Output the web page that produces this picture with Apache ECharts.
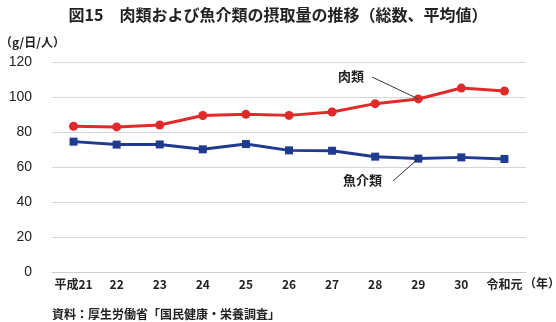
<!DOCTYPE html>
<html>
<head>
<meta charset="utf-8">
<script src="https://cdn.jsdelivr.net/npm/echarts@6/dist/echarts.min.js"></script>
<style>
  html, body { margin: 0; padding: 0; background: #fff; }
  #chart { width: 556px; height: 322px; }
</style>
</head>
<body>
<div id="chart"></div>
<script>
// 年次（平成21〜令和元）
const years = ['平成21', '22', '23', '24', '25', '26', '27', '28', '29', '30', '令和元'];
// 肉類・魚介類の摂取量（g/日/人）
const meat = [83.3, 82.9, 84.0, 89.4, 90.1, 89.5, 91.4, 96.2, 98.9, 105.1, 103.4];
const fish = [74.5, 72.8, 72.9, 70.1, 73.1, 69.5, 69.3, 65.9, 64.8, 65.5, 64.6];
const yTicks = [0, 20, 40, 60, 80, 100, 120];

const JP = '"Noto Sans CJK JP", sans-serif';
const chart = echarts.init(document.getElementById('chart'));

chart.setOption({
  animation: false,
  backgroundColor: '#fff',
  title: {
    text: '図15　肉類および魚介類の摂取量の推移（総数、平均値）',
    left: 'center',
    top: 2,
    textStyle: { fontFamily: JP, fontSize: 16, fontWeight: 'bold', color: '#222' }
  },
  grid: { left: 52, right: 30, top: 62, bottom: 50 },
  xAxis: {
    type: 'category',
    data: years,
    boundaryGap: true,
    axisLine: { lineStyle: { color: '#cfcfcf', width: 1 } },
    axisTick: { show: false },
    axisLabel: { interval: 0, fontFamily: JP, fontSize: 12, fontWeight: 'bold', color: '#222', margin: 6 }
  },
  yAxis: {
    type: 'value',
    min: yTicks[0],
    max: yTicks[yTicks.length - 1],
    interval: 20,
    axisLine: { show: false },
    axisTick: { show: false },
    splitLine: { lineStyle: { color: '#d6d6d6', width: 1 } },
    axisLabel: { fontFamily: '"Liberation Sans", Arial, sans-serif', fontSize: 14, color: '#222', margin: 20 }
  },
  graphic: [
    { type: 'text', left: 0, top: 36, style: { text: '（g/日/人）', font: 'bold 12px ' + JP, fill: '#222' } },
    { type: 'text', left: 524, top: 277, style: { text: '（年）', font: 'bold 12px ' + JP, fill: '#222' } },
    { type: 'text', left: 52, top: 308, style: { text: '資料：厚生労働省「国民健康・栄養調査」', font: 'bold 12px ' + JP, fill: '#222' } },
    { type: 'text', left: 338, top: 70, style: { text: '肉類', font: 'bold 13px ' + JP, fill: '#222' } },
    { type: 'text', left: 343, top: 174, style: { text: '魚介類', font: 'bold 13px ' + JP, fill: '#222' } }
  ],
  series: [
    {
      name: '肉類',
      type: 'line',
      data: meat,
      symbol: 'circle',
      symbolSize: 9,
      itemStyle: { color: '#e02a2a' },
      lineStyle: { color: '#e02a2a', width: 3 },
      markLine: {
        silent: true,
        symbol: ['none', 'none'],
        label: { show: false },
        lineStyle: { color: '#333', width: 1, type: 'solid' },
        data: [[{ x: 372, y: 77 }, { coord: [8, meat[8]] }]]
      }
    },
    {
      name: '魚介類',
      type: 'line',
      data: fish,
      symbol: 'rect',
      symbolSize: 8,
      itemStyle: { color: '#1f3a8f' },
      lineStyle: { color: '#1f3a8f', width: 3 },
      markLine: {
        silent: true,
        symbol: ['none', 'none'],
        label: { show: false },
        lineStyle: { color: '#333', width: 1, type: 'solid' },
        data: [[{ x: 393, y: 181 }, { coord: [8, fish[8]] }]]
      }
    }
  ]
});
</script>
</body>
</html>
